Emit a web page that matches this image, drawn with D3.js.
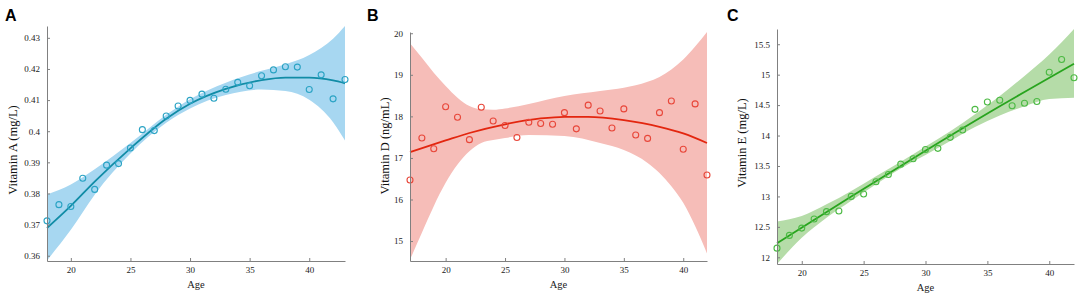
<!DOCTYPE html>
<html>
<head>
<meta charset="utf-8">
<script src="https://cdn.jsdelivr.net/npm/d3@7"></script>
<style>
  body { margin: 0; background: #fff; }
  svg { display: block; }
  .tick text { font-family: "Liberation Serif", "Times New Roman", serif; font-size: 9px; fill: #222; }
  .axis path, .axis line { stroke: #808080; }
</style>
</head>
<body>
<script>
// ---- data ----
var agesA = [18,19,20,21,22,23,24,25,26,27,28,29,30,31,32,33,34,35,36,37,38,39,40,41,42,43];
var vitA = [0.3712,0.3764,0.3758,0.3849,0.3813,0.3891,0.3896,0.3946,0.4005,0.4002,0.4049,0.4081,0.4099,
            0.4119,0.4106,0.4135,0.4157,0.4146,0.4178,0.4197,0.4207,0.4206,0.4134,0.4181,0.4104,0.4166];
var fitAgesA = [18,20,22,25,28,30,33,36,38,40,42,43];
var fitA   = [0.3689,0.3760,0.3838,0.3945,0.4040,0.4088,0.4136,0.4164,0.4172,0.4172,0.4163,0.4154];
var upperA = [0.3797,0.3829,0.3878,0.3962,0.4053,0.4103,0.4156,0.4194,0.4215,0.4245,0.4297,0.4338];
var lowerA = [0.3585,0.3683,0.3796,0.3928,0.4027,0.4073,0.4116,0.4134,0.4129,0.4101,0.4029,0.3970];
var ticksA = [0.36,0.37,0.38,0.39,0.40,0.41,0.42,0.43];

var agesD = [17,18,19,20,21,22,23,24,25,26,27,28,29,30,31,32,33,34,35,36,37,38,39,40,41,42];
var vitD = [16.47,17.48,17.22,18.23,17.98,17.44,18.22,17.89,17.78,17.49,17.86,17.83,17.81,
            18.09,17.70,18.27,18.13,17.72,18.18,17.55,17.47,18.09,18.37,17.21,18.30,16.59];
var fitAgesD = [17,20,22,25,28,30,32,35,38,40,42];
var fitD = [17.14,17.42,17.60,17.81,17.95,17.99,17.99,17.91,17.75,17.59,17.36];
var bandAgesD = [17,18,19,20,21,22,23,24,25,27,30,33,35,37,38,39,40,41,42];
var upperD = [19.76,19.41,19.05,18.73,18.45,18.25,18.17,18.16,18.19,18.30,18.49,18.61,18.69,18.83,18.95,19.13,19.37,19.68,20.03];
var lowerD = [14.55,15.20,15.84,16.40,16.84,17.16,17.36,17.43,17.48,17.55,17.53,17.36,17.19,16.88,16.64,16.32,15.92,15.36,14.70];
var ticksD = [15,16,17,18,19,20];

var agesE = [18,19,20,21,22,23,24,25,26,27,28,29,30,31,32,33,34,35,36,37,38,39,40,41,42];
var vitE = [12.15,12.36,12.48,12.63,12.75,12.76,13.00,13.04,13.24,13.36,13.53,13.62,13.77,
            13.79,13.97,14.09,14.43,14.55,14.58,14.49,14.53,14.56,15.04,15.25,14.95];
var fitAgesE = [18,24,30,36,42];
var fitE = [12.23,13.00,13.75,14.48,15.18];
var bandAgesE = [18,20,22,24,26,28,30,32,34,36,38,40,42];
var upperE = [12.59,12.68,12.87,13.09,13.33,13.57,13.82,14.07,14.35,14.65,14.98,15.33,15.75];
var lowerE = [11.89,12.32,12.65,12.93,13.20,13.46,13.68,13.91,14.14,14.33,14.48,14.60,14.62];
var ticksE = [12,12.5,13,13.5,14,14.5,15,15.5];

var ageTicks = [20,25,30,35,40];

var svg = d3.select("body").append("svg")
    .attr("width", 1084)
    .attr("height", 294);

function drawPanel(p) {
  var x = d3.scaleLinear().domain(p.xDomain).range([p.left, p.right]);
  var y = d3.scaleLinear().domain(p.yDomain).range([p.bottom, p.top]);
  var g = svg.append("g");

  // confidence band
  var band = p.bandAges.map(function(a, i) { return [a, p.upper[i], p.lower[i]]; });
  g.append("path")
    .datum(band)
    .attr("fill", p.bandColor)
    .attr("stroke", "none")
    .attr("d", d3.area()
      .x(d => x(d[0]))
      .y0(d => y(d[2]))
      .y1(d => y(d[1]))
      .curve(d3.curveMonotoneX));

  // fitted curve
  var fit = p.fitAges.map(function(a, i) { return [a, p.fit[i]]; });
  g.append("path")
    .datum(fit)
    .attr("fill", "none")
    .attr("stroke", p.lineColor)
    .attr("stroke-width", 1.8)
    .attr("d", d3.line()
      .x(d => x(d[0]))
      .y(d => y(d[1]))
      .curve(d3.curveMonotoneX));

  // observed points
  g.selectAll("circle.pt")
    .data(p.ages.map(function(a, i) { return [a, p.vals[i]]; }))
    .enter()
    .append("circle")
    .attr("class", "pt")
    .attr("cx", d => x(d[0]))
    .attr("cy", d => y(d[1]))
    .attr("r", 3)
    .attr("fill", "none")
    .attr("stroke", p.pointColor)
    .attr("stroke-width", 1.1);

  // axes (ticks pointing inward)
  g.append("g")
    .attr("class", "axis")
    .attr("transform", "translate(0," + p.bottom + ")")
    .call(d3.axisBottom(x).tickValues(ageTicks).tickSize(-3).tickSizeOuter(0).tickPadding(6)
      .tickFormat(d3.format("d")));

  g.append("g")
    .attr("class", "axis")
    .attr("transform", "translate(" + p.left + ",0)")
    .call(d3.axisLeft(y).tickValues(p.yTicks).tickSize(-3).tickSizeOuter(0).tickPadding(7)
      .tickFormat(d3.format("~g")));

  g.append("text")
    .attr("x", (p.left + p.right) / 2)
    .attr("y", p.bottom + 27)
    .attr("text-anchor", "middle")
    .attr("font-family", "Liberation Serif, serif")
    .attr("font-size", 10.5)
    .attr("fill", "#222")
    .text("Age");

  g.append("text")
    .attr("transform", "translate(" + p.ylabX + "," + p.ylabY + ") rotate(-90)")
    .attr("text-anchor", "middle")
    .attr("font-family", "Liberation Serif, serif")
    .attr("font-size", 12.5)
    .attr("fill", "#111")
    .text(p.yLabel);

  g.append("text")
    .attr("x", p.letterX)
    .attr("y", 21)
    .attr("font-family", "Liberation Sans, Arial, sans-serif")
    .attr("font-weight", "bold")
    .attr("font-size", 16)
    .attr("fill", "#000")
    .text(p.letter);
}

drawPanel({
  letter: "A", letterX: 5,
  ages: agesA, vals: vitA, fitAges: fitAgesA, fit: fitA,
  bandAges: fitAgesA, upper: upperA, lower: lowerA, yTicks: ticksA,
  xDomain: [18, 43], yDomain: [0.3583, 0.4338],
  left: 47, right: 345, top: 26, bottom: 261,
  ylabX: 17, ylabY: 150, yLabel: "Vitamin A (mg/L)",
  bandColor: "#a7d7f1", lineColor: "#118ca6", pointColor: "#2aa3c4"
});

drawPanel({
  letter: "B", letterX: 367,
  ages: agesD, vals: vitD, fitAges: fitAgesD, fit: fitD,
  bandAges: bandAgesD, upper: upperD, lower: lowerD, yTicks: ticksD,
  xDomain: [17, 42], yDomain: [14.52, 20.03],
  left: 410, right: 707, top: 32, bottom: 261,
  ylabX: 389, ylabY: 146, yLabel: "Vitamin D (ng/mL)",
  bandColor: "#f6bdb8", lineColor: "#e3260f", pointColor: "#e8473a"
});

drawPanel({
  letter: "C", letterX: 727,
  ages: agesE, vals: vitE, fitAges: fitAgesE, fit: fitE,
  bandAges: bandAgesE, upper: upperE, lower: lowerE, yTicks: ticksE,
  xDomain: [18, 42], yDomain: [11.89, 15.75],
  left: 777, right: 1074, top: 29, bottom: 264,
  ylabX: 746, ylabY: 143, yLabel: "Vitamin E (mg/L)",
  bandColor: "#b5dca8", lineColor: "#28a41e", pointColor: "#4cba44"
});
</script>
</body>
</html>
